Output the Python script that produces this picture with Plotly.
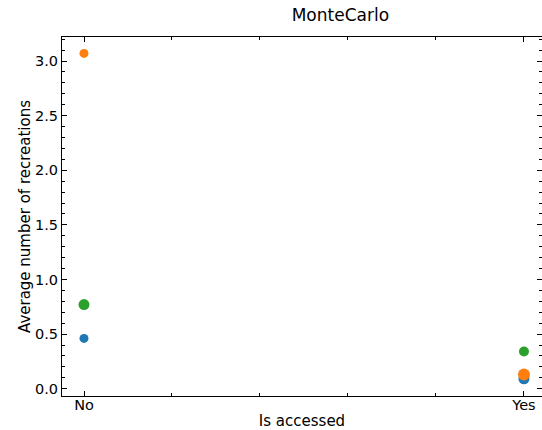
import plotly.graph_objects as go

# Average number of recreations by access status, one series per group
categories = ["No", "Yes"]
x_positions = [0, 1]
series_blue = [0.46, 0.09]
series_orange = [3.07, 0.13]
series_green = [0.77, 0.34]

colors = ["#1f77b4", "#ff7f0e", "#2ca02c"]
marker_sizes = [[9, 11], [9, 12], [11, 10]]

fig = go.Figure()
for vals, col, sz in zip([series_blue, series_orange, series_green], colors, marker_sizes):
    fig.add_trace(go.Scatter(
        x=x_positions, y=vals, mode="markers",
        marker=dict(color=col, size=sz, opacity=1, line=dict(width=0)),
        showlegend=False, cliponaxis=False,
    ))

font_family = "DejaVu Sans"
fig.update_layout(
    width=542, height=430,
    margin=dict(l=62, r=0, t=37, b=34),
    plot_bgcolor="white", paper_bgcolor="white",
    font=dict(family=font_family, size=14.5, color="black"),
    title=dict(text="MonteCarlo", x=0.58, xanchor="center", xref="paper",
               y=1 - 15 / 430, yanchor="middle", font=dict(size=17)),
)
fig.update_xaxes(
    range=[-0.05, 1.041], tickvals=x_positions, ticktext=categories,
    showline=True, linecolor="black", linewidth=1, mirror="ticks", automargin=False,
    ticks="inside", ticklen=5, tickcolor="black", showgrid=False, zeroline=False,
    ticklabelstandoff=-4,
    minor=dict(ticks="inside", ticklen=3, tick0=0, dtick=0.2, tickcolor="black", showgrid=False),
    title=dict(text="Is accessed", standoff=11, font=dict(size=15)), tickfont=dict(size=14.5),
)
fig.update_yaxes(
    range=[-0.067, 3.22], tick0=0, dtick=0.5, tickformat=".1f",
    showline=True, linecolor="black", linewidth=1, mirror="ticks", automargin=False,
    ticks="inside", ticklen=5, tickcolor="black", showgrid=False, zeroline=False,
    minor=dict(ticks="inside", ticklen=3, tick0=0, dtick=0.1, tickcolor="black", showgrid=False),
    title=dict(text="Average number of recreations", standoff=0, font=dict(size=15)),
    tickfont=dict(size=14.5),
)

fig.write_html("out.html")
